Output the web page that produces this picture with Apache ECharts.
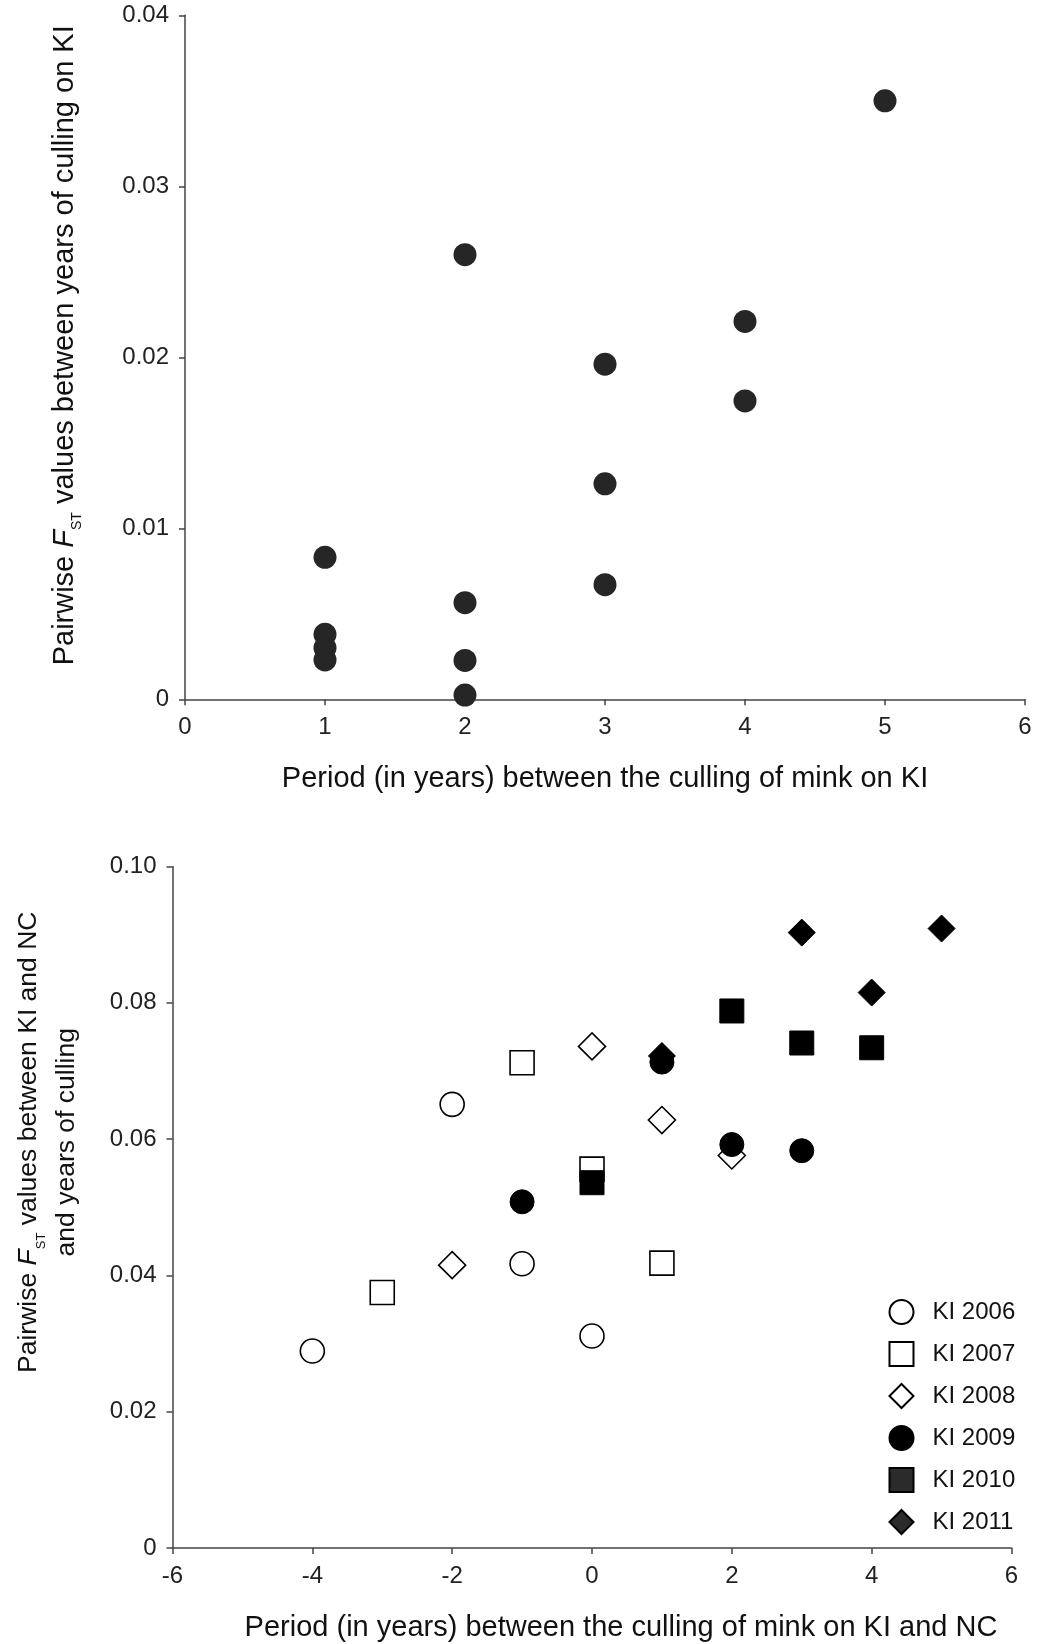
<!DOCTYPE html>
<html><head><meta charset="utf-8">
<script src="https://cdn.jsdelivr.net/npm/echarts@6/dist/echarts.min.js"></script>
<style>html,body{margin:0;padding:0;background:#fff}#c{width:1053px;height:1644px}</style>
</head><body><div id="c"></div>
<script>
// Top panel: period between culls on KI vs pairwise FST
const topPeriod = [1, 1, 1, 1, 2, 2, 2, 2, 3, 3, 3, 4, 4, 5];
const topFst = [0.0083, 0.0038, 0.0030, 0.0023, 0.0260, 0.00565, 0.00227, 0.00025, 0.0196, 0.0126, 0.0067, 0.0221, 0.01745, 0.0350];
const topXTicks = [0, 6, 1];
const topYTicks = [0, 0.04, 0.01];

// Bottom panel: period between KI and NC culls vs pairwise FST (by KI year)
const seriesNames = ['KI 2006', 'KI 2007', 'KI 2008', 'KI 2009', 'KI 2010', 'KI 2011'];
const ki2006 = [[-4, 0.0289], [-2, 0.0651], [-1, 0.0417], [0, 0.0311]];
const ki2007 = [[-3, 0.0375], [-1, 0.0712], [0, 0.0556], [1, 0.0418]];
const ki2008 = [[-2, 0.0415], [0, 0.0736], [1, 0.0628], [2, 0.0576]];
const ki2009 = [[-1, 0.0508], [1, 0.0713], [2, 0.0592], [3, 0.0583]];
const ki2010 = [[0, 0.0536], [2, 0.0788], [3, 0.0741], [4, 0.0734]];
const ki2011 = [[1, 0.0722], [3, 0.0903], [4, 0.0815], [5, 0.0909]];
const botXTicks = [-6, 6, 2];
const botYTicks = [0, 0.10, 0.02];

const FONT = 'Liberation Sans, Arial, sans-serif';
const axisCol = '#444';
const NF = 29;
function makeRich(fs, sub) {
  return {
    a: { fontSize: fs, fontFamily: FONT, color: '#111', lineHeight: 38 },
    i: { fontSize: fs, fontFamily: FONT, color: '#111', fontStyle: 'italic', lineHeight: 38 },
    s: { fontSize: sub, fontFamily: FONT, color: '#111', verticalAlign: 'bottom', lineHeight: 18 }
  };
}
function axisBase(t) {
  return {
    type: 'value', min: t[0], max: t[1], interval: t[2],
    axisLine: { show: true, onZero: false, lineStyle: { color: axisCol, width: 1.5 } },
    axisTick: { show: true, length: 6, lineStyle: { color: axisCol, width: 1.5 } },
    splitLine: { show: false },
    nameLocation: 'middle'
  };
}
const tickLabel = (fmt) => ({ fontSize: 24, fontFamily: FONT, color: '#222', margin: 16, formatter: fmt });
const yFmt = v => v === 0 ? '0' : v.toFixed(2);
const openStyle = { color: '#fff', borderColor: '#000', borderWidth: 1.6, opacity: 1 };
const fillStyle = { color: '#000', borderColor: '#000', borderWidth: 1, opacity: 1 };
const chart = echarts.init(document.getElementById('c'), null, { renderer: 'canvas' });
chart.setOption({
  animation: false,
  backgroundColor: '#fff',
  grid: [
    { left: 185, top: 15.3, width: 840, height: 684, containLabel: false },
    { left: 172.5, top: 866.5, width: 839, height: 681.5, containLabel: false }
  ],
  xAxis: [
    Object.assign(axisBase(topXTicks), { gridIndex: 0, name: 'Period (in years) between the culling of mink on KI',
      nameGap: 65, nameTextStyle: { fontSize: NF, fontFamily: FONT, color: '#111', padding: [0, 0, 0, 0] },
      axisLabel: tickLabel(v => String(v)) }),
    Object.assign(axisBase(botXTicks), { gridIndex: 1, name: 'Period (in years) between the culling of mink on KI and NC',
      nameGap: 65, nameTextStyle: { fontSize: NF, fontFamily: FONT, color: '#111', padding: [0, 0, 0, 58] },
      axisLabel: tickLabel(v => String(v)) })
  ],
  yAxis: [
    Object.assign(axisBase(topYTicks), { gridIndex: 0,
      name: '{a|Pairwise }{i|F}{s|ST}{a| values between years of culling on KI}',
      nameGap: 101, nameTextStyle: { rich: makeRich(NF, 14), padding: [0, 0, 0, 24] },
      axisLabel: tickLabel(yFmt) }),
    Object.assign(axisBase(botYTicks), { gridIndex: 1,
      name: '{a|Pairwise }{i|F}{s|ST}{a| values between KI and NC}\n{a|and years of culling}',
      nameGap: 87, nameTextStyle: { rich: makeRich(26.5, 13), align: 'center', padding: [0, 0, 0, 130] },
      axisLabel: tickLabel(yFmt) })
  ],
  legend: {
    orient: 'vertical', left: 888.5, top: 1299, padding: 0, itemWidth: 24, itemHeight: 24, itemGap: 16,
    textStyle: { fontSize: 24, fontFamily: FONT, color: '#111', padding: [0, 0, 0, 14] },
    data: [
      { name: 'KI 2006' }, { name: 'KI 2007' }, { name: 'KI 2008' }, { name: 'KI 2009' },
      { name: 'KI 2010', itemStyle: { color: '#2b2b2b', borderColor: '#000' } },
      { name: 'KI 2011', itemStyle: { color: '#2b2b2b', borderColor: '#000' } }
    ]
  },
  series: [
    { type: 'scatter', xAxisIndex: 0, yAxisIndex: 0, symbol: 'circle', symbolSize: 23,
      itemStyle: { color: '#262626', opacity: 1 }, data: topPeriod.map((x, i) => [x, topFst[i]]) },
    { type: 'scatter', name: seriesNames[0], xAxisIndex: 1, yAxisIndex: 1, symbol: 'circle', symbolSize: 24, itemStyle: openStyle, data: ki2006, z: 2 },
    { type: 'scatter', name: seriesNames[1], xAxisIndex: 1, yAxisIndex: 1, symbol: 'rect', symbolSize: 24, itemStyle: openStyle, data: ki2007, z: 2 },
    { type: 'scatter', name: seriesNames[2], xAxisIndex: 1, yAxisIndex: 1, symbol: 'diamond', symbolSize: 27, itemStyle: openStyle, data: ki2008, z: 2 },
    { type: 'scatter', name: seriesNames[3], xAxisIndex: 1, yAxisIndex: 1, symbol: 'circle', symbolSize: 24, itemStyle: fillStyle, data: ki2009, z: 5 },
    { type: 'scatter', name: seriesNames[4], xAxisIndex: 1, yAxisIndex: 1, symbol: 'rect', symbolSize: 24, itemStyle: fillStyle, data: ki2010, z: 4 },
    { type: 'scatter', name: seriesNames[5], xAxisIndex: 1, yAxisIndex: 1, symbol: 'diamond', symbolSize: 27, itemStyle: fillStyle, data: ki2011, z: 3 }
  ]
});
</script></body></html>
